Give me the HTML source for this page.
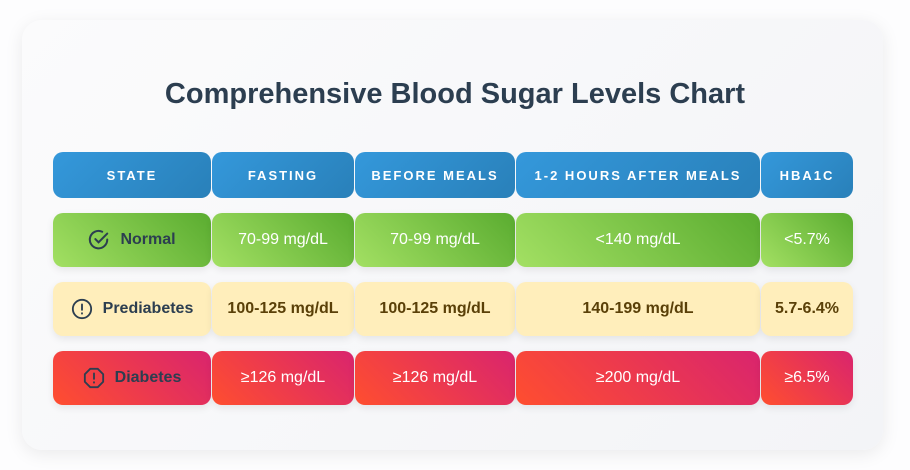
<!DOCTYPE html>
<html><head><style>
body{margin:0;width:910px;height:470px;background:#fdfdfe;font-family:"Liberation Sans",Arial,sans-serif;position:relative;overflow:hidden}
.card{position:absolute;left:22px;top:20px;width:861px;height:430px;border-radius:20px;background:linear-gradient(135deg,#fbfbfc,#f3f4f7);box-shadow:0 4px 18px rgba(0,0,0,.08)}
h1{position:absolute;left:0;top:78px;width:910px;margin:0;text-align:center;font-size:29px;font-weight:bold;color:#2c3e50}
.c{position:absolute;border-radius:10px;display:flex;align-items:center;justify-content:center;font-size:16px;box-sizing:border-box}
.h{background:linear-gradient(135deg,#3498db,#2980b9);color:#fff;font-weight:bold;font-size:13px;letter-spacing:2px;top:152px;height:46px}
.n{background:linear-gradient(45deg,#a3e063,#5aac30);color:#fff;top:213px;height:54px;box-shadow:0 3px 8px rgba(0,0,0,.08)}
.p{background:#ffeebb;color:#5a4008;font-weight:bold;top:282px;height:54px;box-shadow:0 3px 8px rgba(0,0,0,.08)}
.d{background:linear-gradient(45deg,#ff4e2f,#d9246e);color:#fff;top:351px;height:54px;box-shadow:0 3px 8px rgba(0,0,0,.08)}
.s{color:#2c3e50;font-weight:bold}
.s svg{margin-right:10px}
</style></head><body>
<div class="card"></div>
<h1>Comprehensive Blood Sugar Levels Chart</h1>
<div class="c h" style="left:53px;width:158px">STATE</div>
<div class="c h" style="left:212px;width:142px">FASTING</div>
<div class="c h" style="left:355px;width:160px">BEFORE MEALS</div>
<div class="c h" style="left:516px;width:244px">1-2 HOURS AFTER MEALS</div>
<div class="c h" style="left:761px;width:92px">HBA1C</div>

<div class="c n s" style="left:53px;width:158px"><svg width="22" height="22" viewBox="0 0 24 24" fill="none" stroke="#2c3e50" stroke-width="2.2" stroke-linecap="round"><path d="M21 11.5A9.5 9.5 0 1 1 15.5 3"/><path d="M8 11l3.5 3.5L21 5"/></svg>Normal</div>
<div class="c n" style="left:212px;width:142px">70-99 mg/dL</div>
<div class="c n" style="left:355px;width:160px">70-99 mg/dL</div>
<div class="c n" style="left:516px;width:244px">&lt;140 mg/dL</div>
<div class="c n" style="left:761px;width:92px">&lt;5.7%</div>

<div class="c p s" style="left:53px;width:158px"><svg width="22" height="22" viewBox="0 0 24 24" fill="none" stroke="#2c3e50" stroke-width="2" stroke-linecap="round"><circle cx="12" cy="12" r="10"/><path d="M12 7v6M12 16.5v.5"/></svg>Prediabetes</div>
<div class="c p" style="left:212px;width:142px">100-125 mg/dL</div>
<div class="c p" style="left:355px;width:160px">100-125 mg/dL</div>
<div class="c p" style="left:516px;width:244px">140-199 mg/dL</div>
<div class="c p" style="left:761px;width:92px">5.7-6.4%</div>

<div class="c d s" style="left:53px;width:158px"><svg width="22" height="22" viewBox="0 0 24 24" fill="none" stroke="#2c3e50" stroke-width="2" stroke-linecap="round"><polygon points="7.9,2 16.1,2 22,7.9 22,16.1 16.1,22 7.9,22 2,16.1 2,7.9"/><path d="M12 7v6M12 16.5v.5"/></svg>Diabetes</div>
<div class="c d" style="left:212px;width:142px">≥126 mg/dL</div>
<div class="c d" style="left:355px;width:160px">≥126 mg/dL</div>
<div class="c d" style="left:516px;width:244px">≥200 mg/dL</div>
<div class="c d" style="left:761px;width:92px">≥6.5%</div>
</body></html>
